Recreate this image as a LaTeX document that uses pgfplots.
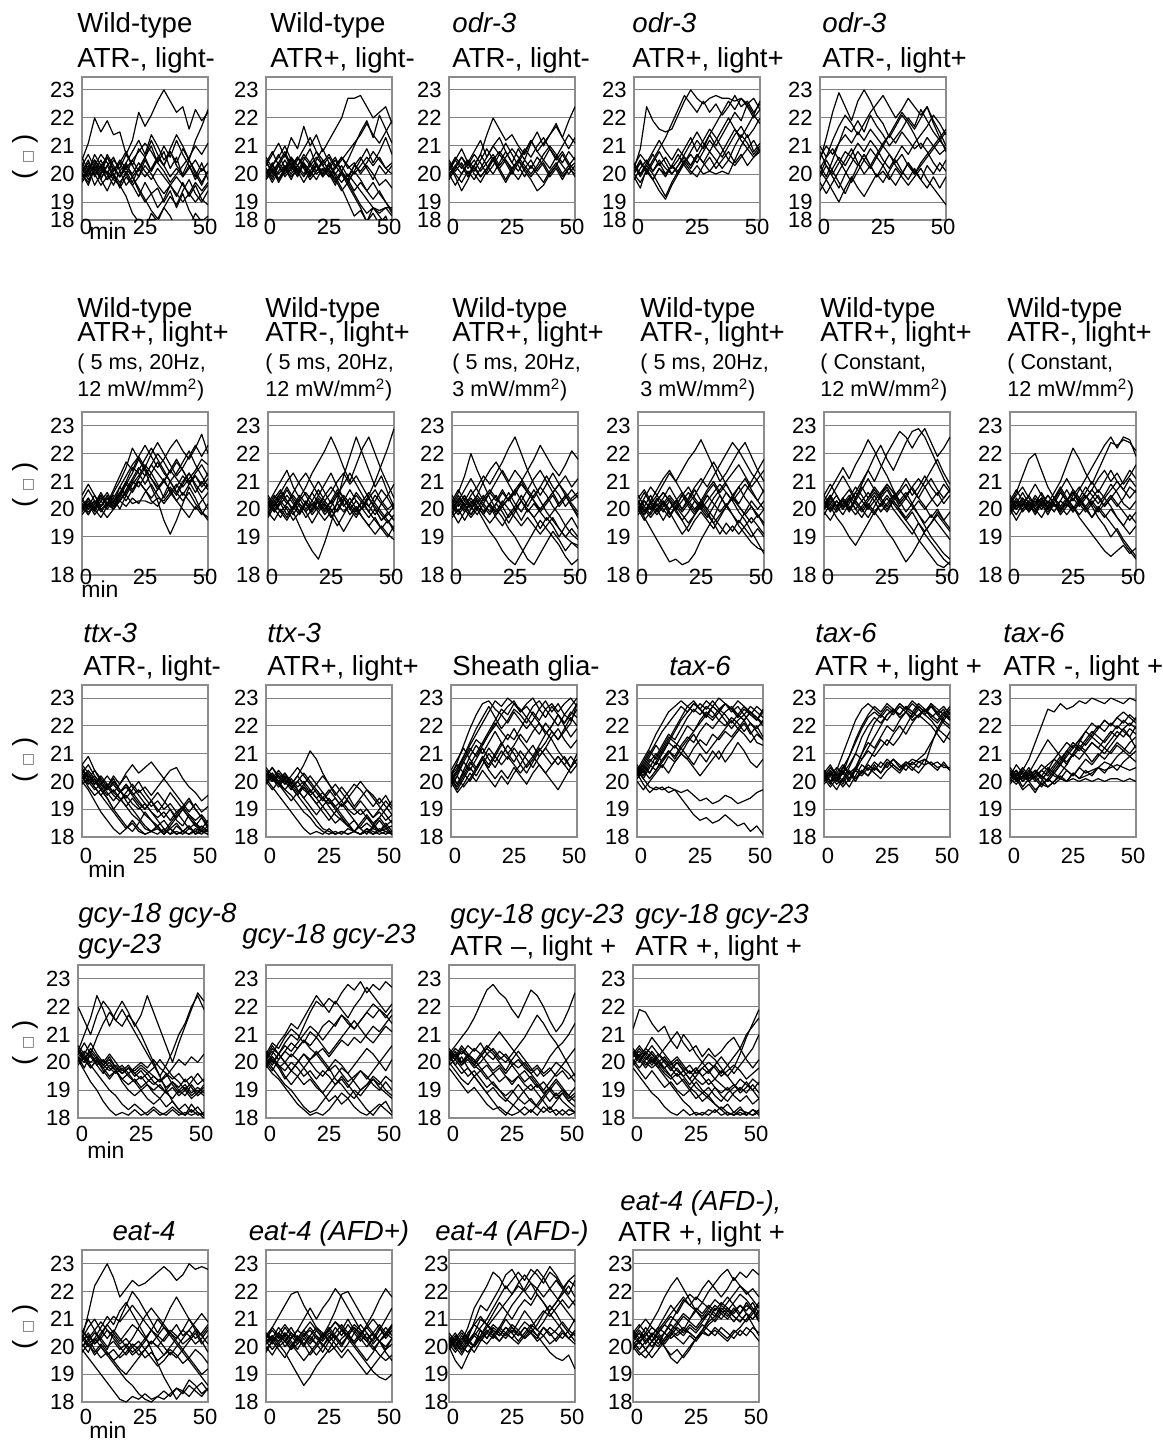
\documentclass[border=0pt]{standalone}
\usepackage{fontspec}
\setmainfont{Liberation Sans}
\newfontfamily\dejavu{DejaVu Sans}
\usepackage{pgfplots}
\usepackage{pgfplotstable}
\pgfplotsset{compat=1.18}

\newcommand\tfont{\fontsize{13.8}{15}\selectfont}
\newcommand\sfont{\fontsize{10.8}{12}\selectfont}
\newcommand\kfont{\fontsize{11}{12}\selectfont}

\pgfplotsset{
 panel/.style={scale only axis, width=63pt, xmin=0, xmax=50,
  xtick={0,25,50}, xticklabels={\hspace*{4pt}0,25,50\hspace*{3pt}},
  yticklabels={18,19,20,21,22,23},
  major tick length=0pt, tick style={draw=none},
  ymajorgrids, grid style={black!50,line width=0.5pt},
  axis line style={black!45,line width=0.6pt},
  ticklabel style={font=\kfont},
  yticklabel style={anchor=east,inner sep=0pt,xshift=-3.5pt},
  xticklabel style={anchor=center,inner sep=0pt}},
 rA/.style={height=71.5pt,ymin=18.36,ymax=23.46,ytick={18.36,19,20,21,22,23},xticklabel style={yshift=-3.5pt}},
 rB/.style={height=81.5pt,ymin=17.63,ymax=23.5,ytick={17.63,19,20,21,22,23},xticklabel style={yshift=-1pt}},
 rC/.style={height=76pt,ymin=18,ymax=23.47,ytick={18,19,20,21,22,23},xticklabel style={yshift=-9.5pt}},
 rD/.style={height=76.5pt,ymin=18,ymax=23.5,ytick={18,19,20,21,22,23},xticklabel style={yshift=-8pt}},
 rE/.style={height=76pt,ymin=18,ymax=23.5,ytick={18,19,20,21,22,23},xticklabel style={yshift=-7.5pt}},
 trace/.style={black,line width=0.6pt,line join=round,mark=none},
}

\newcommand\panel[6]{%
 \begin{axis}[panel,#3,at={(#1*0.5pt,-#2*0.5pt)},anchor=north west,#6]
 \expandafter\pgfplotsinvokeforeach\expandafter{#5}{\addplot[trace] table[x=t,y expr=\thisrow{##1}/10]{#4};}
 \end{axis}}
\newcommand\ttl[4][base west]{\node[anchor=#1,inner sep=0pt,font=\tfont] at (#2*0.5pt,-#3*0.5pt) {#4};}
\newcommand\tts[3]{\node[anchor=base west,inner sep=0pt,font=\sfont] at (#1*0.5pt,-#2*0.5pt) {#3};}
\newcommand\ylab[1]{\node[rotate=90,inner sep=0pt,font=\tfont] at (25*0.5pt,-#1*0.5pt) {(\hspace{0.25em}{\dejavu\fontsize{7}{8}\selectfont\textcolor{black!60}{□}}\hspace{0.25em})};}
\newcommand\minlab[2]{\node[inner sep=0pt,font=\fontsize{11.5}{12}\selectfont] at (#1*0.5pt,-#2*0.5pt) {min};}
\newcommand\mw[1]{#1 mW/mm\textsuperscript{2})}
\def\cols{a,b,c,d,e,f,g,h,i,j,k,l,m,n}

% ---------------- data (values x10, degC; one row per worm) ----------------
\pgfplotstableread{
id 0 2.5 5 7.5 10 12.5 15 17.5 20 22.5 25 27.5 30 32.5 35 37.5 40 42.5 45 47.5 50
a 205 211 220 215 219 214 215 207 212 222 217 221 226 230 226 222 224 216 223 219 222
b 200 197 203 199 201 198 196 192 186 183 180 186 183 188 185 180 183 181 186 183 185
c 203 199 204 200 206 201 204 208 203 209 206 212 207 203 209 214 210 205 212 217 223
d 201 205 199 203 198 200 195 199 196 192 197 193 195 190 194 188 193 187 183 181 184
e 198 202 196 200 203 199 204 200 205 201 206 210 204 208 202 206 199 203 198 202 200
f 206 201 207 203 200 205 202 207 203 199 205 201 206 203 208 204 209 205 200 196 201
g 200 196 202 198 194 199 196 201 197 202 206 201 205 210 206 212 207 203 199 204 198
h 203 207 202 198 203 206 201 196 199 194 190 193 188 191 196 192 197 192 196 191 189
i 197 201 205 201 207 203 199 204 208 212 207 214 210 205 208 203 200 205 201 197 201
j 202 198 201 205 200 196 201 204 199 195 191 187 184 188 192 189 194 198 193 190 194
k 201 204 200 203 206 202 199 203 200 204 201 198 202 199 196 199 196 193 197 194 197
l 199 202 205 202 198 201 205 202 199 202 199 202 206 203 199 202 199 202 205 201 204
m 204 200 203 207 204 200 197 200 196 199 203 200 196 193 196 193 190 193 190 193 196
n 200 203 200 196 199 202 199 202 205 208 211 208 204 201 197 200 203 206 210 207 211
}\raw
\pgfplotstabletranspose[colnames from=id,input colnames to=t]{\tAa}{\raw}
\pgfplotstableread{
id 0 2.5 5 7.5 10 12.5 15 17.5 20 22.5 25 27.5 30 32.5 35 37.5 40 42.5 45 47.5 50
a 203 207 211 206 213 209 217 210 214 208 212 216 220 227 227 228 224 220 222 224 218
b 200 204 198 202 206 201 205 209 203 200 204 199 195 190 185 187 183 188 185 182 184
c 202 198 203 207 202 206 203 199 204 200 203 206 201 197 193 189 186 188 187 188 188
d 199 203 207 202 198 203 207 204 208 203 200 196 201 205 210 215 219 213 221 216 211
e 205 200 204 208 203 199 204 201 205 209 204 200 203 199 203 206 202 198 203 200 203
f 198 202 197 201 205 200 204 199 203 199 202 198 194 197 201 198 194 197 193 190 187
g 204 208 203 199 202 206 202 198 201 205 201 197 200 196 192 188 183 186 182 185 179
h 201 197 201 205 201 205 209 213 208 205 201 198 201 197 201 205 209 204 208 213 207
i 206 202 198 202 206 203 200 204 201 204 207 203 206 202 204 200 203 200 196 198 195
j 200 203 206 210 205 201 197 201 198 202 199 203 200 198 203 201 204 208 205 202 204
k 202 199 203 200 203 206 203 200 203 201 203 200 197 200 197 194 191 188 186 188 185
l 200 203 200 203 200 203 206 203 200 202 199 202 205 208 211 214 218 214 211 215 219
m 204 201 204 201 204 200 203 200 203 199 202 205 201 198 194 197 194 191 194 190 186
n 198 201 198 202 199 202 199 203 206 203 206 202 206 203 200 203 206 203 206 202 200
}\raw
\pgfplotstabletranspose[colnames from=id,input colnames to=t]{\tAb}{\raw}
\pgfplotstableread{
id 0 2.5 5 7.5 10 12.5 15 17.5 20 22.5 25 27.5 30 32.5 35 37.5 40 42.5 45 47.5 50
a 203 199 194 198 203 207 214 220 216 212 214 210 207 212 208 211 214 217 213 219 224
b 201 205 209 204 208 212 206 210 213 208 204 209 205 211 215 210 214 218 213 209 213
c 205 201 204 200 203 199 202 206 202 205 201 198 202 205 201 204 200 203 207 203 206
d 199 203 200 204 200 197 201 205 201 197 201 205 201 198 194 196 200 203 199 202 200
e 202 206 203 199 203 207 203 200 204 208 204 201 205 202 206 203 199 202 198 202 204
f 200 196 200 204 201 205 209 205 202 198 202 205 209 206 210 213 209 205 208 204 201
g 204 200 197 201 198 202 206 210 207 211 207 203 199 203 200 197 201 204 200 203 199
h 198 202 206 203 207 204 200 203 207 204 200 204 208 212 208 205 209 206 210 214 211
i 202 205 202 205 202 199 202 205 208 205 202 205 202 199 202 205 202 206 203 200 203
j 200 203 206 202 205 201 204 207 203 206 209 206 203 200 203 207 210 207 204 208 205
}\raw
\pgfplotstabletranspose[colnames from=id,input colnames to=t]{\tAc}{\raw}
\pgfplotstableread{
id 0 2.5 5 7.5 10 12.5 15 17.5 20 22.5 25 27.5 30 32.5 35 37.5 40 42.5 45 47.5 50
a 202 209 224 219 216 215 216 221 226 230 227 225 227 228 227 227 226 227 225 227 223
b 200 204 201 205 209 213 218 223 228 225 222 226 222 225 221 224 228 224 226 222 225
c 203 199 203 200 196 192 197 201 205 202 206 210 214 218 222 226 223 227 224 220 223
d 201 205 200 204 208 204 200 203 207 211 215 211 208 212 216 220 216 213 217 221 218
e 198 202 205 201 204 200 203 207 203 200 203 200 201 200 201 200 205 210 214 208 211
f 204 200 203 207 203 206 202 205 209 213 208 212 216 213 209 205 210 214 211 207 210
g 200 197 201 198 202 199 203 200 204 201 199 203 206 202 205 208 204 207 203 206 209
h 203 207 204 208 212 208 205 209 206 203 207 204 201 204 208 212 216 212 209 206 208
i 199 195 202 198 194 191 196 200 204 208 212 209 214 210 214 218 222 219 225 221 226
j 201 204 201 198 202 200 203 201 204 207 204 208 212 209 206 210 214 217 213 216 220
k 203 200 204 201 205 202 200 203 206 203 207 204 208 205 202 205 203 206 209 212 208
}\raw
\pgfplotstabletranspose[colnames from=id,input colnames to=t]{\tAd}{\raw}
\pgfplotstableread{
id 0 2.5 5 7.5 10 12.5 15 17.5 20 22.5 25 27.5 30 32.5 35 37.5 40 42.5 45 47.5 50
a 205 213 222 229 224 219 226 230 226 221 218 213 217 221 218 214 209 213 210 207 209
b 210 206 212 217 221 218 214 218 222 225 228 224 220 223 227 224 221 224 219 215 210
c 203 199 205 211 217 215 219 215 221 217 214 210 213 216 220 217 223 219 215 212 215
d 197 193 197 201 205 209 204 200 203 207 211 214 218 222 219 216 220 224 218 213 208
e 200 205 201 197 193 198 203 207 203 199 203 207 203 200 204 200 203 206 209 212 209
f 208 203 199 195 200 204 208 205 202 206 203 199 196 200 204 201 198 203 200 204 201
g 194 198 194 190 195 199 195 192 196 200 197 201 205 201 198 202 198 195 199 195 199
h 202 206 209 205 201 197 201 205 209 206 210 214 211 215 212 209 211 208 204 201 205
i 199 203 200 204 208 206 203 207 203 199 201 198 202 199 196 199 202 198 195 192 189
j 206 210 207 211 214 211 215 212 216 213 210 207 204 207 203 200 204 207 210 213 216
k 201 198 202 206 203 207 211 208 212 209 205 202 206 210 207 211 214 217 221 218 214
}\raw
\pgfplotstabletranspose[colnames from=id,input colnames to=t]{\tAe}{\raw}
% row B
\pgfplotstableread{
id 0 2.5 5 7.5 10 12.5 15 17.5 20 22.5 25 27.5 30 32.5 35 37.5 40 42.5 45 47.5 50
a 201 204 200 205 201 206 210 215 222 218 214 208 203 196 191 196 202 208 204 199 197
b 204 200 203 199 202 207 212 217 214 219 223 219 215 218 222 225 221 218 222 227 220
c 199 202 198 201 205 201 206 210 215 213 209 213 217 213 210 206 210 213 209 206 209
d 202 198 202 206 202 200 204 209 213 218 214 211 208 210 214 218 214 210 212 209 213
e 200 204 200 197 201 204 200 205 209 212 216 213 209 204 208 205 209 213 208 204 200
f 203 207 203 200 197 200 205 210 207 211 215 220 224 220 216 212 215 219 223 219 223
g 201 198 202 205 201 204 208 212 216 219 215 211 207 211 206 203 200 197 201 198 202
h 198 201 205 201 204 200 203 206 210 214 218 222 218 214 210 206 203 206 202 199 196
i 205 209 205 201 204 201 205 209 206 210 207 203 201 205 210 213 217 221 216 212 208
j 200 203 199 203 206 202 208 205 202 203 203 202 204 203 206 209 205 209 212 208 211
k 202 200 203 201 204 201 203 207 211 215 212 216 213 210 214 211 208 211 214 218 216
l 200 202 200 203 200 203 206 203 207 210 207 204 207 210 207 203 206 203 200 203 206
m 203 201 203 200 202 205 203 206 210 208 212 216 220 217 213 217 214 210 206 210 207
n 201 199 201 204 202 200 203 201 204 202 206 209 205 202 205 208 212 209 213 216 212
}\raw
\pgfplotstabletranspose[colnames from=id,input colnames to=t]{\tBa}{\raw}
\pgfplotstableread{
id 0 2.5 5 7.5 10 12.5 15 17.5 20 22.5 25 27.5 30 32.5 35 37.5 40 42.5 45 47.5 50
a 200 204 207 203 199 194 189 185 182 188 195 203 212 219 226 220 214 208 212 206 201
b 202 206 210 214 208 204 208 213 217 221 226 221 215 210 216 222 226 220 214 209 204
c 198 202 206 210 213 209 205 201 205 209 213 208 204 200 197 201 205 210 216 222 229
d 203 199 203 207 203 199 202 206 202 198 201 205 201 204 200 197 194 191 194 191 189
e 200 203 199 196 200 204 200 203 207 203 200 196 192 196 200 203 206 202 199 196 192
f 205 201 204 208 204 201 197 200 203 199 203 199 203 207 203 200 204 200 196 198 201
g 199 196 200 197 201 205 202 198 201 205 208 205 209 213 209 205 201 205 202 205 209
h 201 205 202 198 201 198 202 206 210 206 202 206 202 198 201 197 194 197 193 190 194
i 204 200 197 201 198 202 199 195 199 202 199 202 205 202 206 203 199 203 207 204 200
j 197 201 205 202 206 210 213 209 205 202 198 194 198 202 199 203 201 198 202 199 196
k 202 199 202 205 202 199 202 199 203 200 203 207 204 200 203 200 197 200 196 199 196
l 199 202 199 202 205 202 199 202 199 196 199 202 199 202 205 202 199 196 193 196 193
m 203 200 203 200 196 199 203 200 204 201 197 200 204 201 198 201 204 201 198 195 198
n 200 203 206 203 200 203 206 203 200 203 206 210 213 209 212 208 204 207 203 200 202
}\raw
\pgfplotstabletranspose[colnames from=id,input colnames to=t]{\tBb}{\raw}
\pgfplotstableread{
id 0 2.5 5 7.5 10 12.5 15 17.5 20 22.5 25 27.5 30 32.5 35 37.5 40 42.5 45 47.5 50
a 202 206 212 220 214 209 204 200 197 193 190 186 182 180 184 188 192 189 185 188 187
b 200 204 201 205 208 212 209 213 217 222 226 220 214 209 205 209 213 209 205 201 198
c 198 202 205 201 205 210 214 217 213 209 205 210 214 218 223 219 215 212 216 221 218
d 203 199 203 207 203 199 202 198 202 206 202 199 203 207 203 199 196 193 190 188 186
e 201 205 201 198 202 205 201 197 194 198 201 205 201 205 208 205 201 198 194 191 189
f 205 201 204 201 198 202 206 203 207 203 207 210 206 203 199 202 205 201 204 207 204
g 199 195 199 203 200 196 192 189 185 182 180 184 188 192 196 193 190 187 183 180 182
h 200 203 207 211 207 203 206 210 214 210 214 211 207 204 208 212 208 205 201 204 206
i 203 207 203 200 203 199 202 205 201 204 200 196 200 197 193 197 194 190 194 197 193
j 197 200 196 200 204 201 198 202 199 195 199 203 207 211 214 210 206 202 205 201 197
k 201 198 201 204 201 198 202 199 203 200 197 194 197 194 191 194 197 193 190 193 190
l 199 202 199 202 205 202 199 202 206 203 206 209 206 203 200 203 206 209 206 203 205
m 202 199 202 198 201 198 195 198 201 197 200 203 199 202 199 196 199 202 205 202 199
n 200 203 200 197 200 204 207 204 201 204 207 203 200 197 200 203 206 209 212 208 211
}\raw
\pgfplotstabletranspose[colnames from=id,input colnames to=t]{\tBc}{\raw}
\pgfplotstableread{
id 0 2.5 5 7.5 10 12.5 15 17.5 20 22.5 25 27.5 30 32.5 35 37.5 40 42.5 45 47.5 50
a 201 197 193 189 185 181 182 180 181 184 189 193 197 202 206 203 199 196 192 188 184
b 200 204 208 205 209 213 210 214 218 221 225 220 215 210 213 217 221 224 219 214 210
c 203 199 203 207 211 214 210 206 202 205 209 213 217 213 209 205 202 206 210 214 218
d 199 203 200 204 200 197 201 205 201 198 202 206 209 205 201 198 194 191 188 186 185
e 205 201 198 202 199 203 200 196 199 203 200 197 201 205 201 204 208 204 201 197 200
f 202 206 202 199 203 199 195 191 194 198 202 199 195 191 195 192 196 193 190 193 190
g 198 201 205 201 204 208 204 200 204 208 211 208 212 216 220 224 221 217 213 210 206
h 201 198 202 205 202 198 201 205 208 204 201 205 202 199 202 198 195 199 203 200 203
i 204 207 203 200 196 200 203 200 203 207 203 207 210 206 209 205 201 198 201 198 195
j 200 196 199 203 206 203 199 196 192 196 199 196 193 197 201 205 208 211 207 203 207
k 202 199 202 199 202 205 202 199 202 199 203 200 197 194 191 194 191 194 197 194 191
l 200 203 200 203 206 203 200 203 206 203 200 203 206 209 206 203 206 209 206 203 200
m 201 198 201 198 201 204 201 198 195 198 201 198 195 198 201 204 201 198 195 198 194
n 203 200 197 200 203 200 203 206 203 200 203 200 204 207 210 213 216 212 208 211 214
}\raw
\pgfplotstabletranspose[colnames from=id,input colnames to=t]{\tBd}{\raw}
\pgfplotstableread{
id 0 2.5 5 7.5 10 12.5 15 17.5 20 22.5 25 27.5 30 32.5 35 37.5 40 42.5 45 47.5 50
a 203 207 211 215 211 216 220 225 221 216 212 207 203 206 202 198 194 190 187 184 182
b 200 204 208 212 208 204 209 214 219 223 218 214 219 224 228 229 226 221 216 211 207
c 202 205 201 198 202 206 210 214 210 215 220 224 228 226 222 226 229 224 219 222 226
d 205 201 197 194 190 187 191 195 199 196 192 189 185 181 184 188 192 195 199 196 193
e 201 205 201 204 200 204 208 204 208 205 208 204 207 211 207 204 208 211 207 204 207
f 198 202 205 201 204 208 205 201 198 202 199 203 200 196 193 189 186 183 180 179 181
g 203 199 203 200 204 200 197 201 205 201 204 200 197 194 191 195 191 188 185 182 180
h 200 203 200 204 207 203 207 211 207 204 207 203 206 209 205 208 212 208 205 209 206
i 205 209 205 201 204 200 203 206 203 199 202 205 201 204 208 204 201 197 200 196 199
j 199 196 200 203 199 203 200 197 201 205 209 206 203 199 202 206 210 214 218 213 209
k 201 204 201 203 200 203 200 203 206 203 200 203 200 197 200 203 200 203 206 202 205
l 203 200 203 200 203 206 203 200 203 206 209 206 202 205 208 211 208 204 201 204 207
m 200 202 199 202 205 202 199 202 199 202 205 202 199 196 199 195 192 195 198 195 192
n 202 204 201 204 201 198 201 204 207 204 201 204 207 204 201 198 195 198 195 192 189
}\raw
\pgfplotstabletranspose[colnames from=id,input colnames to=t]{\tBe}{\raw}
\pgfplotstableread{
id 0 2.5 5 7.5 10 12.5 15 17.5 20 22.5 25 27.5 30 32.5 35 37.5 40 42.5 45 47.5 50
a 202 206 212 218 220 214 208 204 200 203 206 202 199 202 205 201 204 201 204 208 206
b 200 204 201 205 209 205 202 206 210 216 222 218 213 209 214 219 224 223 225 224 221
c 204 200 203 199 202 206 202 199 203 207 203 207 211 215 219 223 226 222 226 225 219
d 198 202 206 202 199 203 200 204 201 198 201 197 194 191 188 185 183 185 187 184 186
e 201 198 202 205 201 204 200 203 207 203 206 202 205 201 197 194 190 193 189 186 183
f 203 207 203 200 204 201 205 202 198 201 205 208 204 207 211 214 210 213 209 212 216
g 200 196 200 203 200 197 201 204 208 204 200 204 201 197 200 204 201 197 194 198 195
h 205 201 204 201 205 202 198 202 206 203 199 203 206 210 206 210 214 210 207 211 208
i 199 203 199 202 198 202 205 202 199 203 207 204 200 197 201 198 195 192 188 185 182
j 202 205 208 204 201 204 200 204 207 211 207 204 208 205 202 205 209 206 202 200 203
k 201 203 200 203 200 203 200 202 199 202 199 202 205 202 199 202 205 202 199 196 199
l 203 200 203 200 203 200 203 201 203 201 204 201 204 207 204 201 204 207 210 214 211
m 199 201 204 201 199 202 199 202 200 203 206 203 200 203 200 197 200 197 194 191 194
n 202 200 202 199 202 204 201 204 201 204 201 198 201 204 207 204 207 210 207 204 207
}\raw
\pgfplotstabletranspose[colnames from=id,input colnames to=t]{\tBf}{\raw}
% row C
\pgfplotstableread{
id 0 2.5 5 7.5 10 12.5 15 17.5 20 22.5 25 27.5 30 32.5 35 37.5 40 42.5 45 47.5 50
a 206 209 204 201 198 202 199 203 206 203 205 207 204 201 204 205 201 198 196 193 195
b 203 200 197 199 196 193 196 199 195 192 190 193 190 187 190 186 184 188 185 183 186
c 201 204 201 197 194 190 187 184 182 185 189 186 183 182 185 188 191 194 190 187 183
d 205 201 198 195 198 201 197 194 197 200 196 193 189 192 196 193 190 187 184 182 182
e 200 197 193 189 186 183 181 183 186 183 181 182 181 183 181 184 182 181 183 182 181
f 204 201 204 200 197 200 197 193 190 187 184 182 183 181 184 187 190 193 190 187 184
g 202 198 195 197 194 190 193 196 199 196 198 195 198 201 198 195 192 189 192 189 191
h 206 203 199 202 199 196 199 202 198 195 192 189 186 183 181 182 181 183 182 184 182
i 199 201 198 195 192 189 186 183 185 182 181 182 184 181 183 181 182 181 182 181 183
j 203 206 202 199 202 199 196 199 196 193 190 193 196 193 190 187 190 187 184 187 184
k 202 199 201 198 195 197 194 191 194 191 188 186 184 186 183 185 182 184 181 183 182
l 204 202 199 201 198 195 193 195 192 190 192 189 187 189 186 189 186 183 185 182 184
m 200 203 200 197 199 196 194 191 188 186 183 182 184 181 183 181 182 184 181 182 181
n 203 200 202 199 197 199 196 198 195 197 194 191 193 190 192 189 191 188 186 188 185
}\raw
\pgfplotstabletranspose[colnames from=id,input colnames to=t]{\tCa}{\raw}
\pgfplotstableread{
id 0 2.5 5 7.5 10 12.5 15 17.5 20 22.5 25 27.5 30 32.5 35 37.5 40 42.5 45 47.5 50
a 202 205 201 203 199 202 206 211 208 203 199 195 198 195 191 194 197 195 192 195 191
b 204 201 198 201 198 195 192 189 186 183 182 181 182 181 182 181 182 183 182 181 182
c 200 203 200 197 200 197 194 191 188 191 194 191 188 185 182 185 188 185 182 184 181
d 205 202 199 202 199 202 199 196 199 202 199 196 193 196 199 197 194 191 194 191 188
e 201 198 195 192 189 186 183 181 182 181 183 181 182 181 182 181 183 182 181 182 181
f 203 200 203 200 197 200 203 200 197 194 197 194 191 194 197 200 197 194 191 188 185
g 199 202 199 196 193 196 199 202 199 196 193 190 187 184 182 184 187 184 182 185 182
h 204 201 204 201 198 195 198 195 192 189 186 189 192 189 186 183 185 183 186 183 184
i 200 197 200 203 200 197 194 197 194 191 188 185 187 184 186 183 181 184 187 190 193
j 202 205 202 199 202 205 202 199 196 193 196 199 196 193 190 193 190 187 190 193 190
k 202 200 202 199 201 198 200 197 194 196 193 191 193 190 188 190 187 185 187 184 186
l 201 203 200 202 199 196 198 195 192 194 191 188 186 184 182 181 183 181 182 183 181
m 203 201 199 201 198 200 197 195 197 194 192 194 191 193 190 188 190 187 189 186 188
n 200 202 199 197 195 192 189 187 184 182 181 182 181 183 182 181 182 181 183 182 181
}\raw
\pgfplotstabletranspose[colnames from=id,input colnames to=t]{\tCb}{\raw}
\pgfplotstableread{
id 0 2.5 5 7.5 10 12.5 15 17.5 20 22.5 25 27.5 30 32.5 35 37.5 40 42.5 45 47.5 50
a 202 207 213 219 224 228 229 226 224 227 229 225 228 230 226 229 225 228 224 227 230
b 200 204 209 214 219 223 227 223 219 222 226 224 221 225 222 226 223 220 224 222 226
c 203 199 204 209 213 210 214 218 214 210 213 217 214 218 221 217 220 224 220 216 219
d 198 202 207 204 208 212 208 205 209 213 210 206 203 207 211 214 218 215 218 221 228
e 201 197 201 205 202 206 210 207 211 208 212 209 205 208 212 209 206 209 206 209 206
f 204 208 212 208 205 209 206 210 214 210 207 211 208 205 209 212 209 206 209 205 208
g 200 196 199 203 200 204 201 198 202 199 203 206 210 213 209 212 216 219 215 212 215
h 202 205 209 213 217 221 225 229 227 230 228 225 227 224 221 218 215 211 208 205 210
i 199 202 198 201 205 208 204 201 204 201 205 202 199 203 206 203 200 197 201 205 208
j 201 204 208 212 209 213 217 221 218 215 219 215 212 209 213 217 220 224 221 225 223
k 201 198 202 206 210 214 218 222 226 224 228 226 223 227 229 226 228 225 228 230 227
l 203 206 203 207 204 208 212 209 206 209 206 203 206 209 206 203 206 209 206 203 206
m 200 203 207 211 215 213 217 220 224 221 225 222 219 222 226 223 227 224 221 224 228
n 202 199 203 200 204 208 205 209 213 217 215 219 223 220 217 221 218 215 219 223 220
}\raw
\pgfplotstabletranspose[colnames from=id,input colnames to=t]{\tCc}{\raw}
\pgfplotstableread{
id 0 2.5 5 7.5 10 12.5 15 17.5 20 22.5 25 27.5 30 32.5 35 37.5 40 42.5 45 47.5 50
a 204 208 212 217 221 225 227 229 227 225 228 226 229 226 228 225 227 224 227 225 223
b 202 205 209 213 210 214 218 222 225 228 226 229 227 225 228 226 224 227 225 222 226
c 205 201 205 209 213 217 215 219 223 226 224 227 225 222 225 227 224 222 225 223 220
d 203 207 211 208 212 216 214 212 215 218 221 224 222 225 222 219 222 224 221 218 215
e 201 204 201 204 207 210 213 210 214 217 213 210 213 216 219 222 219 222 218 214 213
f 206 203 207 210 207 211 208 212 209 206 210 207 211 208 212 215 218 221 217 220 216
g 200 197 200 203 206 203 207 210 208 205 202 205 208 211 207 210 214 211 207 205 208
h 203 199 196 198 197 198 197 196 197 195 193 194 192 193 195 194 192 193 194 196 197
i 204 201 198 197 198 196 197 194 191 188 186 187 185 186 188 186 184 185 182 184 181
j 202 206 203 207 211 215 219 223 227 229 226 223 227 230 228 226 229 227 224 222 225
k 203 206 210 214 218 221 224 227 225 228 226 224 227 225 228 226 223 226 224 227 225
l 201 204 208 206 210 214 212 216 220 218 222 225 223 226 224 221 224 222 225 223 221
m 205 202 206 204 208 211 209 213 216 214 218 221 219 222 220 223 221 218 221 219 222
n 202 205 203 207 205 209 207 210 208 212 215 213 217 215 218 216 219 217 214 217 215
}\raw
\pgfplotstabletranspose[colnames from=id,input colnames to=t]{\tCd}{\raw}
\pgfplotstableread{
id 0 2.5 5 7.5 10 12.5 15 17.5 20 22.5 25 27.5 30 32.5 35 37.5 40 42.5 45 47.5 50
a 203 200 204 210 216 222 226 228 226 224 227 225 228 226 229 227 225 227 224 226 222
b 201 204 200 203 209 215 220 224 227 225 228 226 224 227 225 228 226 223 225 227 224
c 204 200 197 201 205 210 216 220 223 221 224 226 223 225 228 226 224 222 219 217 215
d 200 203 200 204 201 205 210 214 212 216 220 218 222 225 222 224 226 223 221 224 222
e 202 199 203 200 204 201 203 207 211 215 213 217 220 217 221 224 222 220 217 214 218
f 199 202 199 201 198 202 206 204 207 205 208 206 204 206 208 207 206 207 205 206 204
g 203 206 202 199 203 200 204 202 205 203 206 208 205 207 206 208 210 214 218 222 220
h 201 198 201 204 201 204 202 205 203 201 204 206 204 207 205 203 206 213 219 223 226
i 204 202 205 203 206 210 208 211 209 212 215 213 216 220 224 227 225 228 224 221 219
j 200 204 201 205 203 201 204 202 206 203 207 205 203 206 204 207 208 206 207 205 205
k 202 205 202 205 209 214 219 223 225 223 226 224 227 225 223 226 224 227 225 222 225
l 200 203 200 203 200 204 208 212 216 220 224 226 224 227 225 223 226 224 222 225 223
m 203 200 203 206 203 205 203 206 204 207 205 208 206 204 207 205 208 206 204 207 204
n 201 203 201 198 201 204 210 216 221 224 222 225 228 226 224 227 225 228 226 224 227
}\raw
\pgfplotstabletranspose[colnames from=id,input colnames to=t]{\tCe}{\raw}
\pgfplotstableread{
id 0 2.5 5 7.5 10 12.5 15 17.5 20 22.5 25 27.5 30 32.5 35 37.5 40 42.5 45 47.5 50
a 203 200 204 208 214 220 226 225 228 226 227 229 228 230 229 228 230 229 228 230 229
b 201 204 200 203 207 211 215 212 209 206 210 214 218 221 219 222 220 223 221 224 222
c 204 201 197 199 196 200 204 208 206 210 213 211 214 217 220 218 221 219 222 220 223
d 200 203 201 204 201 198 201 204 207 211 214 212 215 218 216 214 217 220 218 216 212
e 202 206 203 200 197 199 198 200 203 206 210 208 211 214 212 210 213 216 219 216 220
f 205 202 204 201 203 206 204 202 201 200 201 200 201 200 201 200 201 201 200 201 200
g 201 203 200 202 204 202 200 203 206 204 202 205 203 204 205 204 205 206 205 204 205
h 203 200 202 205 201 204 206 208 211 214 212 215 213 216 214 212 210 213 211 209 211
i 199 202 198 201 204 202 200 203 201 204 202 205 208 206 209 212 215 218 216 219 217
j 204 201 203 200 202 199 201 199 201 200 203 201 202 203 205 207 206 209 211 214 216
k 202 204 201 203 200 202 205 203 206 209 212 215 218 216 219 222 220 223 225 223 221
l 204 202 205 202 204 201 203 206 209 207 210 213 211 214 212 215 218 216 219 221 219
m 201 199 202 200 203 201 198 200 202 200 203 201 204 202 205 203 206 204 207 209 207
n 203 201 203 200 202 204 202 205 208 211 209 212 210 207 210 208 211 214 212 210 213
}\raw
\pgfplotstabletranspose[colnames from=id,input colnames to=t]{\tCf}{\raw}
% row D
\pgfplotstableread{
id 0 2.5 5 7.5 10 12.5 15 17.5 20 22.5 25 27.5 30 32.5 35 37.5 40 42.5 45 47.5 50
a 204 210 216 224 219 213 218 222 218 213 217 224 218 212 206 200 207 213 219 225 222
b 220 215 210 217 222 219 215 213 217 214 210 205 200 195 190 186 183 181 185 182 180
c 203 207 203 209 214 218 215 219 215 211 207 203 199 195 199 204 210 214 220 224 219
d 202 198 203 199 196 199 197 194 196 193 195 192 190 192 189 187 190 188 192 189 191
e 205 201 198 201 198 195 197 194 192 194 191 193 195 193 196 192 189 191 188 190 188
f 200 203 199 196 193 190 188 185 183 185 183 181 183 181 182 184 182 181 183 181 182
g 201 197 193 190 186 183 181 182 181 183 181 182 184 182 181 183 181 182 181 182 181
h 204 201 205 202 199 202 198 196 198 197 199 197 195 193 195 198 201 199 202 200 203
i 199 202 198 201 197 194 197 193 190 188 190 187 185 187 190 193 191 194 191 188 190
j 206 203 207 203 200 203 200 197 199 196 198 196 198 201 198 195 193 190 193 196 193
k 203 201 204 201 199 201 198 196 198 195 197 194 192 194 191 193 190 192 189 191 189
l 205 202 200 202 199 197 199 196 198 196 194 196 193 191 189 191 188 190 187 189 192
m 201 204 202 199 201 198 196 198 195 193 190 192 189 187 184 186 183 185 182 184 181
n 202 200 203 200 198 200 197 199 196 198 200 198 201 198 196 194 196 193 195 192 194
}\raw
\pgfplotstabletranspose[colnames from=id,input colnames to=t]{\tDa}{\raw}
\pgfplotstableread{
id 0 2.5 5 7.5 10 12.5 15 17.5 20 22.5 25 27.5 30 32.5 35 37.5 40 42.5 45 47.5 50
a 201 205 203 207 210 208 213 218 222 220 223 221 225 228 226 229 225 228 226 229 227
b 199 203 207 210 214 212 216 220 224 221 218 222 219 216 220 223 227 224 221 218 221
c 203 207 205 209 212 210 207 211 209 213 215 213 217 214 212 215 218 221 219 216 219
d 200 197 201 204 202 205 208 206 209 206 203 206 209 212 215 212 209 207 210 213 211
e 202 199 203 200 197 200 203 201 204 201 198 201 199 196 199 202 205 203 200 197 201
f 198 202 199 195 192 195 198 195 192 189 192 195 198 196 193 190 192 195 193 190 188
g 201 198 195 192 190 187 184 182 183 186 189 192 195 192 189 186 183 181 184 186 182
h 204 201 198 194 197 200 203 200 197 195 198 194 192 189 187 190 192 194 191 189 187
i 199 196 194 191 188 185 183 181 182 181 183 186 189 187 184 182 181 183 185 183 181
j 202 206 203 200 203 201 198 201 203 200 197 199 196 193 195 197 194 197 200 203 206
k 201 204 201 204 207 205 208 205 203 205 202 205 208 206 209 207 210 213 211 214 217
l 200 202 199 197 200 198 195 197 194 197 195 192 194 191 194 197 195 192 190 193 190
m 203 200 203 206 204 207 210 213 211 208 211 214 217 215 212 215 218 216 219 217 214
n 199 201 198 200 197 195 192 194 191 189 186 188 185 187 190 188 191 194 192 195 193
}\raw
\pgfplotstabletranspose[colnames from=id,input colnames to=t]{\tDb}{\raw}
\pgfplotstableread{
id 0 2.5 5 7.5 10 12.5 15 17.5 20 22.5 25 27.5 30 32.5 35 37.5 40 42.5 45 47.5 50
a 203 206 209 212 216 221 226 228 225 223 219 216 221 226 224 220 215 211 214 219 225
b 202 205 203 206 204 207 203 205 202 200 203 206 209 213 217 214 210 207 203 199 195
c 204 201 205 202 199 202 205 203 200 197 201 204 201 198 195 198 202 205 207 210 214
d 200 197 194 192 195 192 189 191 188 186 189 192 189 186 184 187 190 193 190 188 186
e 203 199 196 198 195 192 189 186 183 181 184 187 190 192 189 186 183 186 189 186 184
f 201 204 200 203 201 198 195 192 190 187 185 183 181 183 181 184 182 183 181 183 182
g 198 195 192 189 191 188 185 183 184 182 181 182 184 182 185 188 191 194 191 188 191
h 205 202 206 203 200 203 200 197 199 196 199 196 193 195 192 189 186 189 186 184 182
i 200 203 199 202 199 202 205 208 211 208 205 202 199 196 193 190 193 196 199 202 205
j 202 199 202 198 195 197 194 196 193 195 192 195 197 194 191 193 190 187 189 186 188
k 201 203 200 202 199 197 199 196 198 195 193 195 192 190 192 189 191 188 190 187 189
l 203 201 204 202 205 203 206 204 201 203 200 198 200 197 199 196 198 195 197 194 196
m 199 201 198 195 197 194 191 193 190 188 190 187 185 187 184 182 184 181 183 181 182
n 204 202 199 201 198 200 203 201 204 202 199 201 198 196 198 195 197 200 198 196 193
}\raw
\pgfplotstabletranspose[colnames from=id,input colnames to=t]{\tDc}{\raw}
\pgfplotstableread{
id 0 2.5 5 7.5 10 12.5 15 17.5 20 22.5 25 27.5 30 32.5 35 37.5 40 42.5 45 47.5 50
a 212 219 218 214 211 213 208 211 207 204 206 202 205 202 204 207 209 205 210 213 216
b 203 200 204 201 198 201 198 195 197 194 191 189 187 185 183 181 182 181 182 181 183
c 202 205 202 199 202 205 208 205 210 207 203 200 197 199 196 199 202 205 201 198 201
d 200 197 194 197 194 191 193 190 188 190 187 189 191 188 186 189 191 194 192 190 193
e 204 201 198 201 198 195 192 189 186 184 181 182 181 183 181 182 181 183 182 181 182
f 201 198 201 204 201 198 195 198 195 192 195 198 196 199 202 199 196 199 202 205 210
g 198 195 192 189 187 184 182 181 183 181 182 181 183 182 184 182 181 182 181 183 181
h 205 202 199 202 199 196 194 196 193 190 193 190 188 191 188 186 189 191 189 192 189
i 203 206 203 200 203 200 197 200 197 194 197 200 203 201 198 195 192 190 193 190 187
j 199 202 205 209 206 203 200 202 199 196 198 195 192 194 197 195 198 203 209 214 219
k 202 204 201 203 200 198 200 197 195 197 194 192 194 191 189 191 188 186 188 185 187
l 204 202 205 203 200 202 199 201 198 196 198 195 197 194 192 190 192 189 191 194 192
m 200 203 200 198 200 197 195 192 194 191 189 186 188 185 183 185 182 184 181 183 182
n 203 201 203 206 203 201 198 200 197 199 196 198 200 198 195 197 199 197 194 196 198
}\raw
\pgfplotstabletranspose[colnames from=id,input colnames to=t]{\tDd}{\raw}
% row E
\pgfplotstableread{
id 0 2.5 5 7.5 10 12.5 15 17.5 20 22.5 25 27.5 30 32.5 35 37.5 40 42.5 45 47.5 50
a 203 212 222 226 230 225 218 221 224 222 223 225 227 229 227 224 226 230 228 229 228
b 205 210 206 202 199 205 210 215 220 217 213 209 205 209 214 218 214 210 206 202 198
c 201 198 203 207 211 208 213 216 212 208 204 199 194 189 185 181 184 188 186 183 185
d 199 196 193 190 187 184 181 180 182 181 183 181 182 184 182 185 183 186 184 182 185
e 204 201 198 201 198 195 197 200 197 199 202 206 210 207 204 201 198 195 192 189 186
f 202 205 201 204 208 205 202 205 208 206 203 206 204 207 205 208 204 206 203 205 208
g 200 203 199 196 198 195 192 190 193 196 199 202 200 197 200 203 206 210 207 204 201
h 206 203 206 209 206 203 200 197 200 202 199 196 193 195 198 196 199 202 205 201 204
i 198 201 197 200 197 194 191 188 186 183 181 180 182 181 183 185 184 182 185 187 184
j 203 207 210 206 203 206 203 200 203 207 211 214 211 208 205 202 199 196 199 197 194
k 202 204 201 203 200 202 199 201 198 200 203 201 204 202 205 203 206 204 201 203 206
l 204 201 203 200 197 199 196 198 201 199 196 198 195 197 199 197 194 196 193 190 192
m 200 202 205 203 206 204 201 203 200 197 199 202 200 203 206 204 201 203 206 204 207
n 203 200 202 205 208 211 209 212 215 212 209 206 203 200 197 200 203 206 209 212 209
}\raw
\pgfplotstabletranspose[colnames from=id,input colnames to=t]{\tEa}{\raw}
\pgfplotstableread{
id 0 2.5 5 7.5 10 12.5 15 17.5 20 22.5 25 27.5 30 32.5 35 37.5 40 42.5 45 47.5 50
a 203 207 211 215 219 220 215 211 207 204 208 213 219 220 216 212 208 212 217 221 218
b 201 204 201 198 194 190 186 189 193 196 199 203 206 203 200 197 194 191 189 188 190
c 205 202 205 208 205 202 205 202 206 203 207 204 201 204 207 204 208 205 202 199 203
d 199 202 205 202 199 203 200 204 201 198 202 205 208 205 201 204 207 210 207 203 206
e 203 206 203 207 204 201 204 207 204 200 203 207 204 208 205 202 205 202 206 210 214
f 200 197 201 204 201 198 195 198 201 205 202 199 196 199 196 193 190 193 196 199 201
g 204 207 204 200 203 206 210 214 210 214 217 221 218 214 210 206 203 200 197 195 197
h 202 199 202 205 202 199 203 200 197 200 204 201 198 201 205 208 205 201 204 207 204
i 198 202 199 196 200 204 201 197 200 203 206 203 200 204 201 198 195 198 202 198 195
j 205 203 207 204 207 203 206 209 206 203 206 209 206 210 206 203 200 203 207 204 208
k 202 204 202 205 203 206 204 201 204 202 205 203 206 204 201 204 202 205 208 205 203
l 204 202 205 203 200 203 201 204 207 205 202 204 201 204 207 205 202 199 202 205 208
m 201 203 200 202 205 203 206 203 201 204 206 209 207 204 202 205 207 204 202 200 203
n 203 201 204 202 199 201 204 206 203 201 198 200 203 205 208 206 203 205 202 204 207
}\raw
\pgfplotstabletranspose[colnames from=id,input colnames to=t]{\tEb}{\raw}
\pgfplotstableread{
id 0 2.5 5 7.5 10 12.5 15 17.5 20 22.5 25 27.5 30 32.5 35 37.5 40 42.5 45 47.5 50
a 203 199 202 207 214 218 222 227 225 221 224 227 224 228 226 223 227 225 221 224 222
b 201 204 200 203 209 215 213 217 221 226 228 224 220 217 221 225 229 226 222 219 224
c 204 200 197 201 205 210 208 212 216 213 210 214 217 215 219 216 213 216 219 222 218
d 200 195 192 197 201 206 203 207 205 203 206 204 207 205 203 207 204 206 209 206 210
e 202 205 201 204 208 206 203 206 204 207 205 202 205 208 206 204 207 205 203 206 204
f 199 202 198 201 204 207 210 214 218 222 219 223 226 223 219 216 212 209 206 203 205
g 203 200 204 201 198 202 205 208 206 210 207 204 207 205 208 212 215 212 208 205 202
h 201 198 201 205 208 211 208 205 202 205 203 201 204 207 204 201 198 196 195 197 192
i 205 202 199 202 205 203 206 204 207 211 215 218 221 225 228 225 221 218 215 212 209
j 200 203 206 203 200 204 208 206 204 207 205 209 213 210 206 209 213 216 220 224 226
k 202 200 203 201 204 202 205 203 206 204 207 205 203 206 204 207 205 202 205 203 206
l 201 203 200 198 201 204 207 210 213 216 219 222 220 223 221 218 221 224 221 218 215
m 203 201 199 202 200 203 206 204 207 205 203 206 209 207 210 213 211 214 217 214 217
n 200 202 205 202 200 203 201 204 202 205 208 206 203 205 202 204 201 203 206 203 201
}\raw
\pgfplotstabletranspose[colnames from=id,input colnames to=t]{\tEc}{\raw}
\pgfplotstableread{
id 0 2.5 5 7.5 10 12.5 15 17.5 20 22.5 25 27.5 30 32.5 35 37.5 40 42.5 45 47.5 50
a 204 201 205 209 213 218 222 225 221 217 213 216 220 223 226 228 224 227 225 228 226
b 206 203 207 204 207 211 215 212 216 219 217 221 224 221 218 221 225 222 219 221 218
c 202 205 201 204 201 205 209 213 217 215 218 216 214 217 215 213 216 219 217 214 211
d 200 197 199 202 200 203 206 209 206 210 213 210 212 209 212 214 211 209 212 210 213
e 203 206 203 200 203 205 203 205 207 205 203 206 204 207 205 203 206 204 207 205 202
f 201 198 196 199 203 200 197 199 196 199 203 206 209 211 215 218 215 212 216 213 209
g 205 208 205 202 206 209 212 215 218 215 213 211 214 212 210 213 211 209 212 210 213
h 199 202 199 196 199 202 205 203 201 204 202 205 208 210 213 216 219 222 220 217 214
i 204 207 210 207 205 208 206 204 206 205 203 205 204 206 204 202 205 207 210 213 216
j 202 199 202 205 203 200 196 194 197 200 203 206 210 214 212 210 213 215 212 208 204
k 203 205 202 204 207 205 208 206 204 207 205 208 206 204 207 205 203 206 204 207 205
l 201 203 205 202 205 208 211 209 212 210 214 212 215 213 216 214 212 215 213 216 212
m 205 202 204 207 205 202 205 208 211 209 207 210 213 211 214 212 209 212 215 213 210
n 200 202 199 202 204 201 204 207 205 208 206 209 212 215 213 211 214 211 209 212 215
}\raw
\pgfplotstabletranspose[colnames from=id,input colnames to=t]{\tEd}{\raw}

\begin{document}
\begin{tikzpicture}
\useasboundingbox (0,0) rectangle (581pt,-721.5pt);
% ---------- row A ----------
\panel{82}{77}{rA}{\tAa}{\cols}{}
\panel{266}{77}{rA}{\tAb}{\cols}{}
\panel{449}{77}{rA}{\tAc}{a,b,c,d,e,f,g,h,i,j}{}
\panel{634}{77}{rA}{\tAd}{a,b,c,d,e,f,g,h,i,j,k}{}
\panel{820}{77}{rA}{\tAe}{a,b,c,d,e,f,g,h,i,j,k}{}
\ttl{77}{33}{Wild-type}\ttl{77}{68}{ATR-, light-}
\ttl{270}{33}{Wild-type}\ttl{270}{68}{ATR+, light-}
\ttl{452}{33}{\textit{odr-3}}\ttl{452}{68}{ATR-, light-}
\ttl{632}{33}{\textit{odr-3}}\ttl{632}{68}{ATR+, light+}
\ttl{822}{33}{\textit{odr-3}}\ttl{822}{68}{ATR-, light+}
\ylab{157}\minlab{108}{231}
% ---------- row B ----------
\panel{82}{412}{rB}{\tBa}{\cols}{}
\panel{268}{412}{rB}{\tBb}{\cols}{}
\panel{452}{412}{rB}{\tBc}{\cols}{}
\panel{638}{412}{rB}{\tBd}{\cols}{}
\panel{824}{412}{rB}{\tBe}{\cols}{}
\panel{1010}{412}{rB}{\tBf}{\cols}{}
\ttl{77}{318}{Wild-type}\ttl{77}{342}{ATR+, light+}\tts{77}{370}{( 5 ms, 20Hz,}\tts{77}{397}{\mw{12}}
\ttl{265}{318}{Wild-type}\ttl{265}{342}{ATR-, light+}\tts{265}{370}{( 5 ms, 20Hz,}\tts{265}{397}{\mw{12}}
\ttl{452}{318}{Wild-type}\ttl{452}{342}{ATR+, light+}\tts{452}{370}{( 5 ms, 20Hz,}\tts{452}{397}{\mw{3}}
\ttl{640}{318}{Wild-type}\ttl{640}{342}{ATR-, light+}\tts{640}{370}{( 5 ms, 20Hz,}\tts{640}{397}{\mw{3}}
\ttl{820}{318}{Wild-type}\ttl{820}{342}{ATR+, light+}\tts{820}{370}{( Constant,}\tts{820}{397}{\mw{12}}
\ttl{1007}{318}{Wild-type}\ttl{1007}{342}{ATR-, light+}\tts{1007}{370}{( Constant,}\tts{1007}{397}{\mw{12}}
\ylab{485}\minlab{100}{589}
% ---------- row C ----------
\panel{82}{685}{rC}{\tCa}{\cols}{}
\panel{266}{685}{rC}{\tCb}{\cols}{}
\panel{451}{685}{rC}{\tCc}{\cols}{}
\panel{637}{685}{rC}{\tCd}{\cols}{}
\panel{824}{685}{rC}{\tCe}{\cols}{}
\panel{1010}{685}{rC}{\tCf}{\cols}{}
\ttl{83}{642}{\textit{ttx-3}}\ttl{83}{675}{ATR-, light-}
\ttl{267}{642}{\textit{ttx-3}}\ttl{267}{675}{ATR+, light+}
\ttl{452}{675}{Sheath glia-}
\ttl[base]{700}{675}{\textit{tax-6}}
\ttl{815}{642}{\textit{tax-6}}\ttl{815}{675}{ATR +, light +}
\ttl{1003}{642}{\textit{tax-6}}\ttl{1003}{675}{ATR -, light +}
\ylab{760}\minlab{107}{869}
% ---------- row D ----------
\panel{78}{965}{rD}{\tDa}{\cols}{}
\panel{266}{965}{rD}{\tDb}{\cols}{}
\panel{449}{965}{rD}{\tDc}{\cols}{}
\panel{633}{965}{rD}{\tDd}{\cols}{}
\ttl{78}{922}{\textit{gcy-18 gcy-8}}\ttl{78}{953}{\textit{gcy-23}}
\ttl[base]{329}{943}{\textit{gcy-18 gcy-23}}
\ttl{450}{923}{\textit{gcy-18 gcy-23}}\ttl{450}{955}{ATR –, light +}
\ttl{635}{923}{\textit{gcy-18 gcy-23}}\ttl{635}{955}{ATR +, light +}
\ylab{1043}\minlab{106}{1150}
% ---------- row E ----------
\panel{82}{1250}{rE}{\tEa}{\cols}{}
\panel{266}{1250}{rE}{\tEb}{\cols}{}
\panel{449}{1250}{rE}{\tEc}{\cols}{yticklabel style={xshift=3.5pt}}
\panel{633}{1250}{rE}{\tEd}{\cols}{yticklabel style={xshift=3.5pt}}
\ttl[base]{144}{1240}{\textit{eat-4}}
\ttl[base]{329}{1240}{\textit{eat-4 (AFD+)}}
\ttl[base]{512}{1240}{\textit{eat-4 (AFD-)}}
\ttl{620}{1210}{\textit{eat-4 (AFD-),}}\ttl{618}{1241}{ATR +, light +}
\ylab{1327}\minlab{108}{1430}
\end{tikzpicture}
\end{document}
